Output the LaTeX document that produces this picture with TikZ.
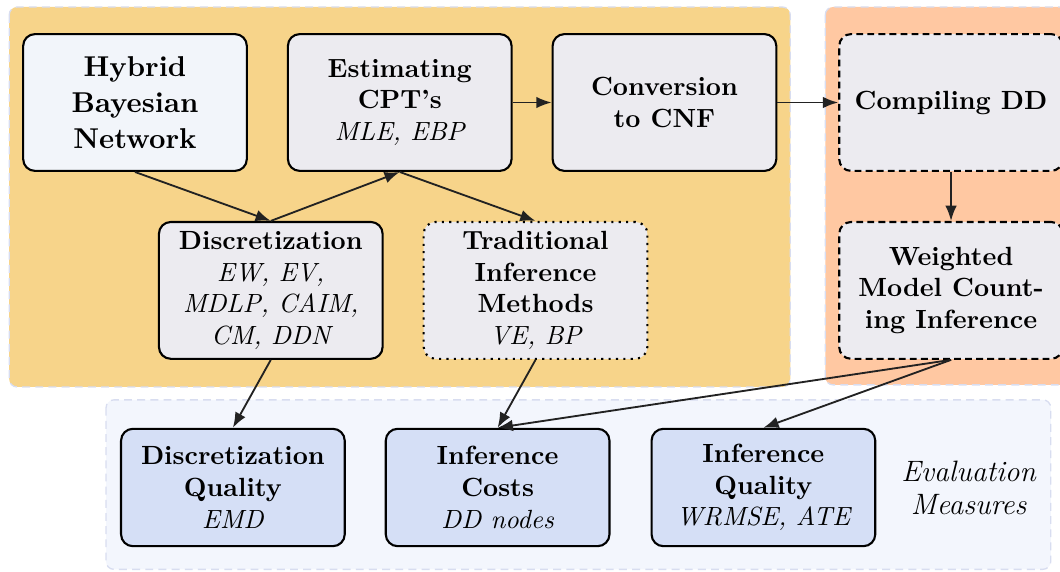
\documentclass[tikz,border=0pt]{standalone}
\usepackage{tikz}
\usetikzlibrary{arrows.meta,positioning,calc,backgrounds}
\definecolor{StageYellow}{HTML}{F7D48A}
\definecolor{StageOrange}{HTML}{FFC8A2}
\definecolor{EvalBack}{HTML}{F3F6FD}
\definecolor{EvalBlue}{HTML}{D5DFF6}
\definecolor{BoxGray}{HTML}{ECEBF0}
\definecolor{BoxWhite}{HTML}{F2F5FA}
\definecolor{EdgeGray}{HTML}{222222}
\definecolor{BorderLav}{HTML}{D8DDF0}
\newcommand{\meth}[1]{{\normalfont\itshape #1}}
\tikzset{
  box/.style     = {draw, thick, rounded corners=4.5pt, align=center, font=\bfseries,
                    fill=BoxGray, minimum width=85pt, minimum height=52pt, inner sep=2pt},
  boxdash/.style = {box, dash pattern=on 2.6pt off 1.6pt},
  boxdot/.style  = {box, dotted},
  evalbox/.style = {box, fill=EvalBlue, minimum height=44.6pt},
  flecha/.style  = {-{Latex[length=5.8pt,width=4.4pt]}, line width=0.7pt, draw=EdgeGray},
  zona/.style    = {rounded corners=3pt, draw=BorderLav, dash pattern=on 3pt off 2pt, line width=0.5pt},
  nota/.style    = {font=\fontsize{11.2}{12.6}\selectfont\itshape, align=center},
}

\begin{document}
\begin{tikzpicture}
  \useasboundingbox (-51.3pt,38.95pt) rectangle ++(402.8pt,-217pt);

  % pipeline
  \node[box, fill=BoxWhite, font=\bfseries\fontsize{10.9}{13.6}\selectfont] (hbn) at (0,0) {Hybrid\\Bayesian\\Network};
  \node[box, right=14.8pt of hbn] (cpt) {Estimating\\CPT's\\\meth{MLE, EBP}};
  \node[box, right=14.8pt of cpt] (cnf) {Conversion\\to CNF};
  \coordinate (m1) at ($(hbn.south)!0.5!(cpt.south)$);
  \coordinate (m2) at ($(cpt.south)!0.5!(cnf.south)$);
  \node[box, below=18.6pt of m1, xshift=1.3pt] (disc) {Discretization\\\meth{EW, EV,}\\\meth{MDLP, CAIM,}\\\meth{CM, DDN}};
  \node[boxdot, below=18.6pt of m2, xshift=1.3pt] (trad) {Traditional\\Inference\\Methods\\\meth{VE, BP}};

  % compilation
  \node[boxdash, right=23.1pt of cnf] (comp) {Compiling DD};
  \node[boxdash, below=18.6pt of comp] (wmc) {Weighted\\Model Count-\\ing Inference};

  % evaluation
  \node[evalbox, below=25.8pt of disc, xshift=-14.4pt] (dq) {Discretization\\Quality\\\meth{EMD}};
  \node[evalbox, below=25.8pt of trad, xshift=-14.4pt] (ic) {Inference\\Costs\\\meth{DD nodes}};
  \node[evalbox, right=15.2pt of ic] (iq) {Inference\\Quality\\\meth{WRMSE, ATE}};
  \node[nota, right=6pt of iq] (evm) {Evaluation\\Measures};

  \draw[flecha] (hbn.south) -- (disc.north);
  \draw[flecha] (disc.north) -- (cpt.south);
  \draw[flecha] (cpt.south) -- (trad.north);
  \draw[flecha] (cpt.east) -- (cnf.west);
  \draw[flecha] (cnf.east) -- (comp.west);
  \draw[flecha] (comp.south) -- (wmc.north);
  \draw[flecha] (disc.south) -- (dq.north);
  \draw[flecha] (trad.south) -- (ic.north);
  \draw[flecha] (wmc.south) -- (ic.north);
  \draw[flecha] (wmc.south) -- (iq.north);

  \begin{scope}[on background layer]
    \draw[zona, fill=StageYellow] ($(hbn.north west)+(-4.9pt,9.9pt)$) rectangle ($(cnf.east |- trad.south)+(4.9pt,-10.3pt)$);
    \draw[zona, fill=StageOrange] ($(comp.north west)+(-4.9pt,9.9pt)$) rectangle ($(wmc.south east)+(4.9pt,-9.5pt)$);
    \draw[zona, fill=EvalBack] ($(dq.north west)+(-5.3pt,10.6pt)$) rectangle ($(iq.south east)+(66.3pt,-8.4pt)$);
  \end{scope}
\end{tikzpicture}
\end{document}
